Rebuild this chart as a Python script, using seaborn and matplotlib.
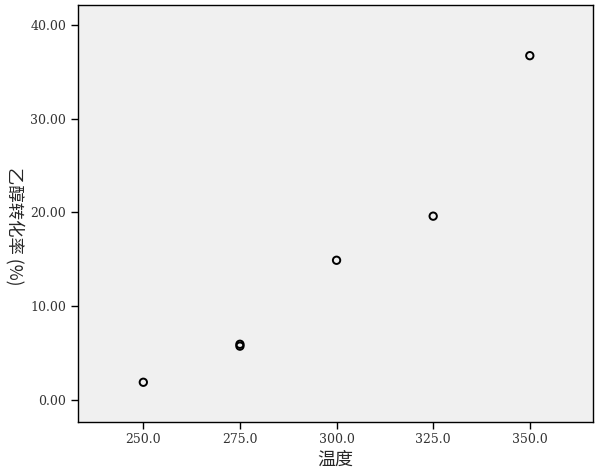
import seaborn as sns
import matplotlib.pyplot as plt
import pandas as pd

# Datos
temperatura = [250, 275, 275, 300, 325, 350]
conversion = [1.9, 5.75, 5.95, 14.9, 19.6, 36.7]
xticks = [250, 275, 300, 325, 350]
yticks = [0, 10, 20, 30, 40]

df = pd.DataFrame({'温度': temperatura, '乙醇转化率(%)': conversion})

sns.set_style('ticks')
plt.rcParams['font.family'] = ['Noto Sans CJK SC', 'DejaVu Sans']

fig = plt.figure(figsize=(6, 4.72), dpi=100)
ax = fig.add_axes([0.13, 0.1066, 0.858, 0.8828])
ax.set_facecolor('#f0f0f0')

sns.scatterplot(data=df, x='温度', y='乙醇转化率(%)', ax=ax, marker='o',
                facecolor='none', edgecolor='black', linewidth=1.4, s=28)

ax.set_xlim(233.1, 366.3)
ax.set_ylim(-2.3, 42.1)
ax.set_xticks(xticks)
ax.set_xticklabels([f'{v:.1f}' for v in xticks], family='DejaVu Serif', fontsize=9, color='#333333')
ax.set_yticks(yticks)
ax.set_yticklabels([f'{v:.2f}' for v in yticks], family='DejaVu Serif', fontsize=9, color='#333333')
ax.tick_params(direction='out', length=5, width=1, color='black')

for s in ax.spines.values():
    s.set_visible(True)
    s.set_color('black')
    s.set_linewidth(1)

ax.set_xlabel('温度', fontsize=13, labelpad=3)
ax.set_ylabel('乙醇转化率 (%)', fontsize=12.5, rotation=270, va='center')
ax.yaxis.set_label_coords(-0.123, 0.47)

plt.savefig('out.png', dpi=100)
